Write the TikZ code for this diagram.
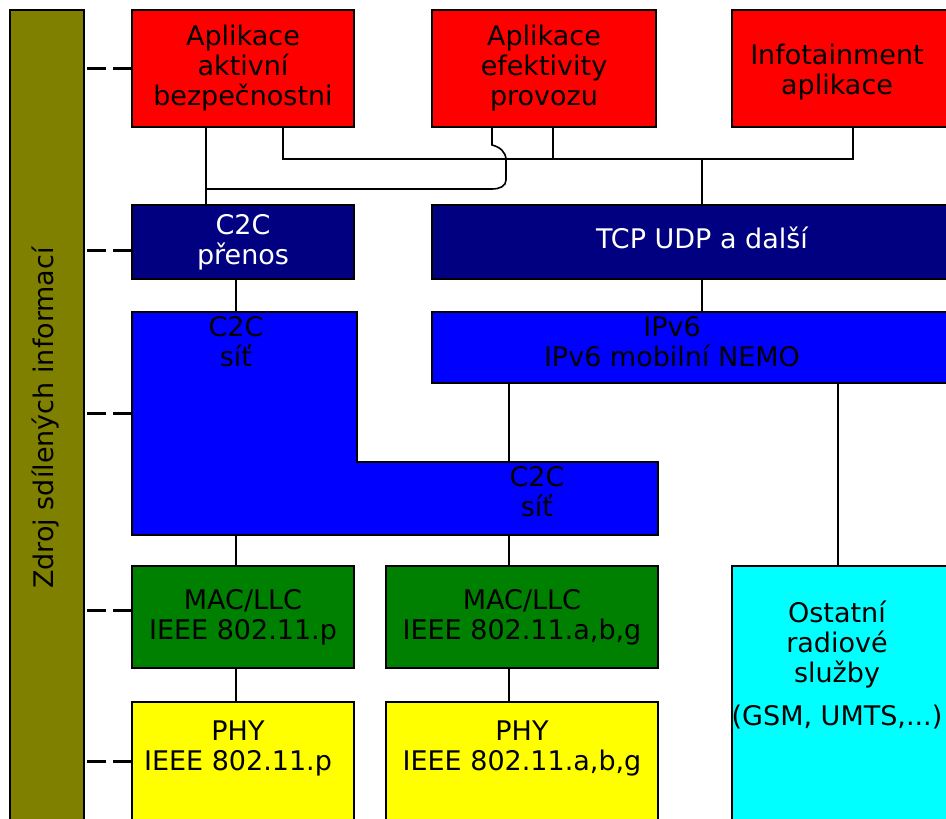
\documentclass[tikz,border=0pt]{standalone}
\usepackage{fontspec}
\newfontfamily\dejavu{DejaVu Sans}
\definecolor{cervena}{RGB}{255,0,0}
\definecolor{tmavemodra}{RGB}{0,0,128}
\definecolor{modra}{RGB}{0,0,255}
\definecolor{zelena}{RGB}{0,128,0}
\definecolor{zluta}{RGB}{255,255,0}
\definecolor{azurova}{RGB}{0,255,255}
\definecolor{olivova}{RGB}{128,128,0}
\tikzset{
    blok/.style={draw=black, line width=2pt, rectangle, inner sep=0pt, outer sep=0pt, align=center, font=\dejavu\fontsize{27}{30}\selectfont},
    popis/.style={align=center, inner sep=0pt, font=\dejavu\fontsize{27}{30}\selectfont},
    spoj/.style={line width=1.6pt},
    pomlcka/.style={line width=3pt, dash pattern=on 19pt off 7pt}
}
\begin{document}
\begin{tikzpicture}[x=1pt, y=-1pt]
    \useasboundingbox (0,0) rectangle (946,819);
    \clip (0,0) rectangle (946,819);

    % Zdroj sdílených informací
    \node[blok, fill=olivova, minimum width=74pt, minimum height=890pt] (bar) at (47,455) {};
    \node[popis, rotate=90] (barText) at (46,418) {Zdroj sdílených informací};

    % Aplikace
    \node[blok, fill=cervena, minimum width=222pt, minimum height=117pt] (r1) at (243,68.5) {Aplikace\\aktivní\\bezpečnostni};
    \node[blok, fill=cervena, minimum width=224pt, minimum height=117pt] (r2) at (544,68.5) {Aplikace\\efektivity\\provozu};
    \node[blok, fill=cervena, minimum width=248pt, minimum height=117pt] (r3) at (856,68.5) {};
    \node[popis] (r3Text) at (837,72) {Infotainment\\aplikace};

    % Přenos
    \node[blok, fill=tmavemodra, text=white, minimum width=222pt, minimum height=74pt] (c2c) at (243,242) {C2C\\přenos};
    \node[blok, fill=tmavemodra, minimum width=548pt, minimum height=74pt] (tcp) at (706,242) {};
    \node[popis, text=white] (tcpText) at (702,238) {TCP UDP a další};

    % Síť
    \coordinate (sitA) at (132,312);
    \filldraw[fill=modra, line width=2pt] (sitA) -- (357,312) -- (357,462) -- (658,462) -- (658,535) -- (132,535) -- cycle;
    \node[popis] (sit1) at (236,342) {C2C\\síť};
    \node[popis] (sit2) at (537,492) {C2C\\síť};
    \node[blok, fill=modra, minimum width=548pt, minimum height=71pt] (ipv6) at (706,347.5) {};
    \node[popis] (ipv6Text) at (672,342) {IPv6\\IPv6 mobilní NEMO};

    % MAC a PHY
    \node[blok, fill=zelena, minimum width=222pt, minimum height=102pt] (mac1) at (243,617) {MAC/LLC\\IEEE 802.11.p};
    \node[blok, fill=zelena, minimum width=272pt, minimum height=102pt] (mac2) at (522,617) {MAC/LLC\\IEEE 802.11.a,b,g};
    \node[blok, fill=zluta, minimum width=222pt, minimum height=128pt] (phy1) at (243,766) {};
    \node[popis] (phy1Text) at (238,748) {PHY\\IEEE 802.11.p};
    \node[blok, fill=zluta, minimum width=272pt, minimum height=128pt] (phy2) at (522,766) {};
    \node[popis] (phy2Text) at (522,748) {PHY\\IEEE 802.11.a,b,g};
    \node[blok, fill=azurova, minimum width=248pt, minimum height=314pt] (cyan) at (856,723) {};
    \node[popis] (cyanText) at (837,665) {Ostatní\\radiové\\služby\\[13pt](GSM, UMTS,...)};

    % Spoje
    \coordinate (jL) at (206,189);
    \coordinate (jR) at (702,159);
    \draw[spoj] ([xshift=74pt]r1.south west) -- ([xshift=74pt]c2c.north west);
    \draw[spoj] ([xshift=151pt]r1.south west) -- ++(0,32) -| ([xshift=121pt]r3.south west);
    \draw[spoj] ([xshift=121pt]r2.south west) -- ++(0,32);
    \draw[spoj] ([xshift=60pt]r2.south west) -- ++(0,18) .. controls +(8,2) and +(0,-8) .. ++(14,15) -- ++(0,20) .. controls +(0,6) and +(8,0) .. ++(-14,9) -- (jL);
    \draw[spoj] (jR) -- (jR |- tcp.north);
    \draw[spoj] (jR |- tcp.south) -- (jR |- ipv6.north);
    \draw[spoj] ([xshift=104pt]c2c.south west) -- ++(0,33);
    \draw[spoj] ([xshift=77pt]ipv6.south west) -- ++(0,79);
    \draw[spoj] ([xshift=406pt]ipv6.south west) -- ([xshift=106pt]cyan.north west);
    \draw[spoj] ([xshift=104pt]mac1.north west) -- ++(0,-31);
    \draw[spoj] ([xshift=123pt]mac2.north west) -- ++(0,-31);
    \draw[spoj] ([xshift=104pt]mac1.south west) -- ([xshift=104pt]phy1.north west);
    \draw[spoj] ([xshift=123pt]mac2.south west) -- ([xshift=123pt]phy2.north west);

    % Napojení na zdroj informací
    \coordinate (dC2C) at ([yshift=-8pt]c2c.west);
    \coordinate (dSit) at (132,413);
    \coordinate (dMac) at ([yshift=7pt]mac1.west);
    \coordinate (dPhy) at ([yshift=5pt]phy1.west);
    \draw[pomlcka] (r1.west) -- (bar.east |- r1.west);
    \draw[pomlcka] (dC2C) -- (bar.east |- dC2C);
    \draw[pomlcka] (dSit) -- (bar.east |- dSit);
    \draw[pomlcka] (dMac) -- (bar.east |- dMac);
    \draw[pomlcka] (dPhy) -- (bar.east |- dPhy);
\end{tikzpicture}
\end{document}
